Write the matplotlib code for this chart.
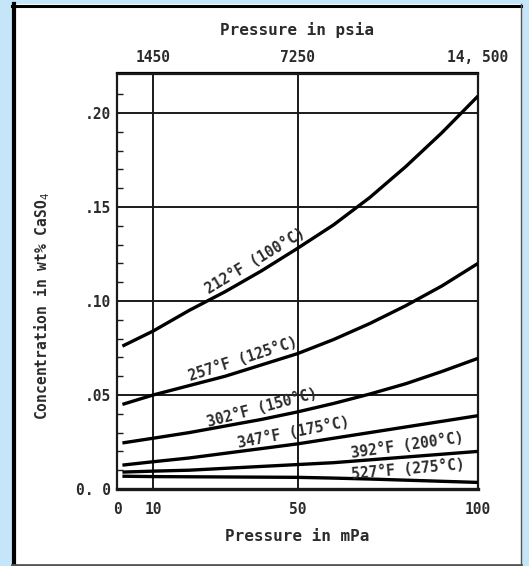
import numpy as np
import matplotlib
matplotlib.use("Agg")
import matplotlib.pyplot as plt
from matplotlib.patches import Rectangle
from matplotlib.lines import Line2D

# ---------------- data ----------------
pressure_mpa = [1.5, 10, 20, 30, 40, 50, 60, 70, 80, 90, 100]
conc_212F = [0.076, 0.084, 0.095, 0.105, 0.116, 0.128, 0.1405, 0.155, 0.1715, 0.1895, 0.209]
conc_257F = [0.045, 0.050, 0.055, 0.060, 0.066, 0.072, 0.0795, 0.088, 0.0975, 0.108, 0.120]
conc_302F = [0.0245, 0.027, 0.030, 0.0335, 0.037, 0.041, 0.0455, 0.0505, 0.056, 0.0625, 0.0695]
conc_347F = [0.0127, 0.0145, 0.0165, 0.019, 0.0215, 0.024, 0.027, 0.030, 0.033, 0.036, 0.039]
conc_392F = [0.009, 0.0095, 0.010, 0.011, 0.012, 0.013, 0.014, 0.0155, 0.017, 0.0185, 0.020]
conc_527F = [0.0068, 0.0066, 0.0065, 0.0064, 0.0063, 0.0062, 0.0058, 0.0053, 0.0047, 0.0041, 0.0035]

curve_labels = ["212°F (100°C)", "257°F (125°C)", "302°F (150°C)",
                "347°F (175°C)", "392°F (200°C)", "527°F (275°C)"]

bottom_ticks = [0, 10, 50, 100]
bottom_ticklabels = ["0", "10", "50", "100"]
top_ticks = [10, 50, 100]
top_ticklabels = ["1450", "7250", "14, 500"]
y_ticks = [0.0, 0.05, 0.10, 0.15, 0.20]
y_ticklabels = ["0. 0", ".05", ".10", ".15", ".20"]

# ---------------- style ----------------
FONT = "DejaVu Sans Mono"
INK = "#1a1a1a"
TXT = "#2b2b2b"
BG = "#c5e5f8"
WEIGHT = "bold"

fig = plt.figure(figsize=(5.29, 5.66), dpi=100)
fig.patch.set_facecolor(BG)

# white panel with border
W, H = 529.0, 566.0
fig.patches.append(Rectangle((12 / W, 0), (521 - 12) / W, (566 - 4) / H,
                             transform=fig.transFigure, facecolor="white",
                             edgecolor="none", zorder=-10))
fig.lines.append(Line2D([14 / W, 14 / W], [0, 1 - 4 / H], transform=fig.transFigure,
                        color="black", lw=3.0, zorder=-5))
fig.lines.append(Line2D([12 / W, 521 / W], [1 - 5.5 / H, 1 - 5.5 / H],
                        transform=fig.transFigure, color="black", lw=2.2, zorder=-5))
fig.lines.append(Line2D([12 / W, 521 / W], [1.2 / H, 1.2 / H],
                        transform=fig.transFigure, color="#555555", lw=2.0, zorder=-5))
fig.lines.append(Line2D([521 / W, 521 / W], [0, 1 - 4 / H],
                        transform=fig.transFigure, color="#555555", lw=1.0, zorder=-5))

ax = fig.add_axes([117 / W, 1 - 489 / H, (478 - 117) / W, (489 - 73.5) / H])
ax.set_facecolor("white")
ax.set_xlim(0, 100)
ax.set_ylim(0, 0.221)

# grid
for yv in y_ticks[1:]:
    ax.axhline(yv, color=INK, lw=1.4, zorder=1)
for xv in [10, 50]:
    ax.axvline(xv, color=INK, lw=1.4, zorder=1)

series = [conc_212F, conc_257F, conc_302F, conc_347F, conc_392F, conc_527F]
for ys in series:
    ax.plot(pressure_mpa, ys, color="black", lw=2.4, solid_capstyle="butt",
            solid_joinstyle="round", zorder=3)

# curve labels
label_x = [40, 36, 41, 49.6, 81, 81]
label_rot = [31, 18, 15, 11, 8, 5]
label_off = [8, 8, 8, 8, 8, 8]
for ys, txt, lx, rot, off in zip(series, curve_labels, label_x, label_rot, label_off):
    ly = np.interp(lx, pressure_mpa, ys)
    th = np.deg2rad(rot)
    ax.annotate(txt, xy=(lx, ly), xytext=(-np.sin(th) * off, np.cos(th) * off),
                textcoords="offset points", rotation=rot, rotation_mode="anchor",
                ha="center", va="center", fontsize=10.5, family=FONT, color=TXT,
                fontweight=WEIGHT, zorder=4)

# spines
for s in ax.spines.values():
    s.set_color(INK)
    s.set_linewidth(1.6)
ax.spines["bottom"].set_linewidth(2.4)

ax.set_xticks(bottom_ticks)
ax.set_xticklabels(bottom_ticklabels, family=FONT, fontsize=10.5, color=TXT,
                   fontweight=WEIGHT)
ax.set_yticks(y_ticks)
ax.set_yticklabels(y_ticklabels, family=FONT, fontsize=10.5, color=TXT,
                   fontweight=WEIGHT)
ax.tick_params(axis="x", length=0, pad=9)
ax.tick_params(axis="y", length=0, pad=4)
ax.set_yticks(np.arange(0.01, 0.22, 0.01), minor=True)
ax.tick_params(axis="y", which="minor", direction="in", length=4, width=1.0, color=INK)

ax.set_xlabel("Pressure in mPa", family=FONT, fontsize=11.5, color=TXT,
              fontweight=WEIGHT, labelpad=9)
ax.set_ylabel("Concentration in wt% CaSO$_4$", family=FONT, fontsize=10.5,
              color=TXT, fontweight=WEIGHT)
ax.yaxis.set_label_coords(-0.18, 0.44)

top = ax.secondary_xaxis("top")
top.set_xticks(top_ticks)
top.set_xticklabels(top_ticklabels, family=FONT, fontsize=10.5, color=TXT,
                    fontweight=WEIGHT)
top.tick_params(length=0, pad=6)
top.spines["top"].set_linewidth(1.6)
top.set_xlabel("Pressure in psia", family=FONT, fontsize=11.5, color=TXT,
               fontweight=WEIGHT, labelpad=11)

fig.savefig("out.png", dpi=100, facecolor=BG)
